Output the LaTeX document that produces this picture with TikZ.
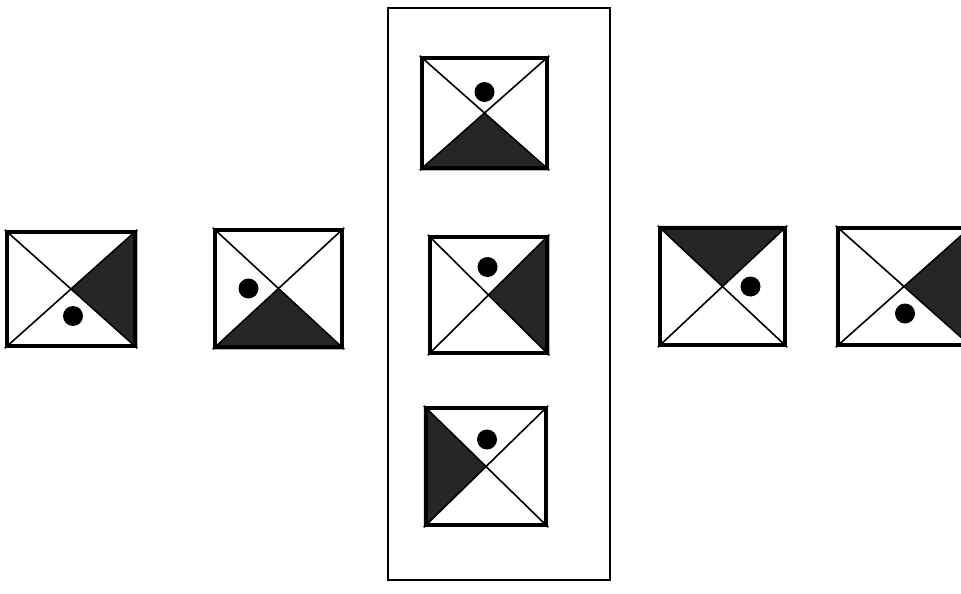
\documentclass[tikz,border=0pt]{standalone}
\usepackage{xcolor}
\usepackage{tikz}
\usetikzlibrary{calc,backgrounds}
\tikzset{
  tile/.style 2 args={
    draw, line width=4.5pt, inner sep=0pt,
    minimum width=#1pt, minimum height=#2pt
  },
  panel/.style={draw, line width=1.5pt, inner sep=0pt,
    minimum width=222pt, minimum height=572pt},
  diag/.style={line width=1.6pt},
  darkpart/.style={fill=black!85},
  spot/.style={fill=black},
}

\begin{document}
\begin{tikzpicture}[x=1pt, y=-1pt]
    \useasboundingbox (0,0) rectangle (961,594);
    \clip (0,0) rectangle (961,594);
    % frame round the middle column
    \node[panel] (frame) at (499,294) {};
    % tiles
    \node[tile={128}{114}] (t1) at (71,289) {};
    \node[tile={127}{117}] (t2) at (278.5,288.5) {};
    \node[tile={125}{110}] (t3) at (484.5,113) {};
    \node[tile={117}{116}] (t4) at (488.5,295) {};
    \node[tile={120}{117}] (t5) at (486,466.5) {};
    \node[tile={125}{117}] (t6) at (722.5,286.5) {};
    \node[tile={132}{117}] (t7) at (904,286.5) {};
    \begin{scope}[on background layer]
      \fill[darkpart] (t1.center) -- (t1.north east) -- (t1.south east) -- cycle;
      \fill[darkpart] (t2.center) -- (t2.south west) -- (t2.south east) -- cycle;
      \fill[darkpart] (t3.center) -- (t3.south west) -- (t3.south east) -- cycle;
      \fill[darkpart] (t4.center) -- (t4.north east) -- (t4.south east) -- cycle;
      \fill[darkpart] (t5.center) -- (t5.north west) -- (t5.south west) -- cycle;
      \fill[darkpart] (t6.center) -- (t6.north west) -- (t6.north east) -- cycle;
      \fill[darkpart] (t7.center) -- (t7.north east) -- (t7.south east) -- cycle;
    \end{scope}
    \foreach \i in {1,...,7}
      \draw[diag] (t\i.north west) -- (t\i.south east)
                  (t\i.north east) -- (t\i.south west);
    % dots
    \fill[spot] ($(t1)+(2,27)$) circle (10pt);
    \fill[spot] ($(t2)+(-30,0)$) circle (10pt);
    \fill[spot] ($(t3)+(0,-21)$) circle (10pt);
    \fill[spot] ($(t4)+(-1,-28)$) circle (10pt);
    \fill[spot] ($(t5)+(1,-27)$) circle (10pt);
    \fill[spot] ($(t6)+(28,0)$) circle (10pt);
    \fill[spot] ($(t7)+(1,27)$) circle (10pt);
\end{tikzpicture}
\end{document}
